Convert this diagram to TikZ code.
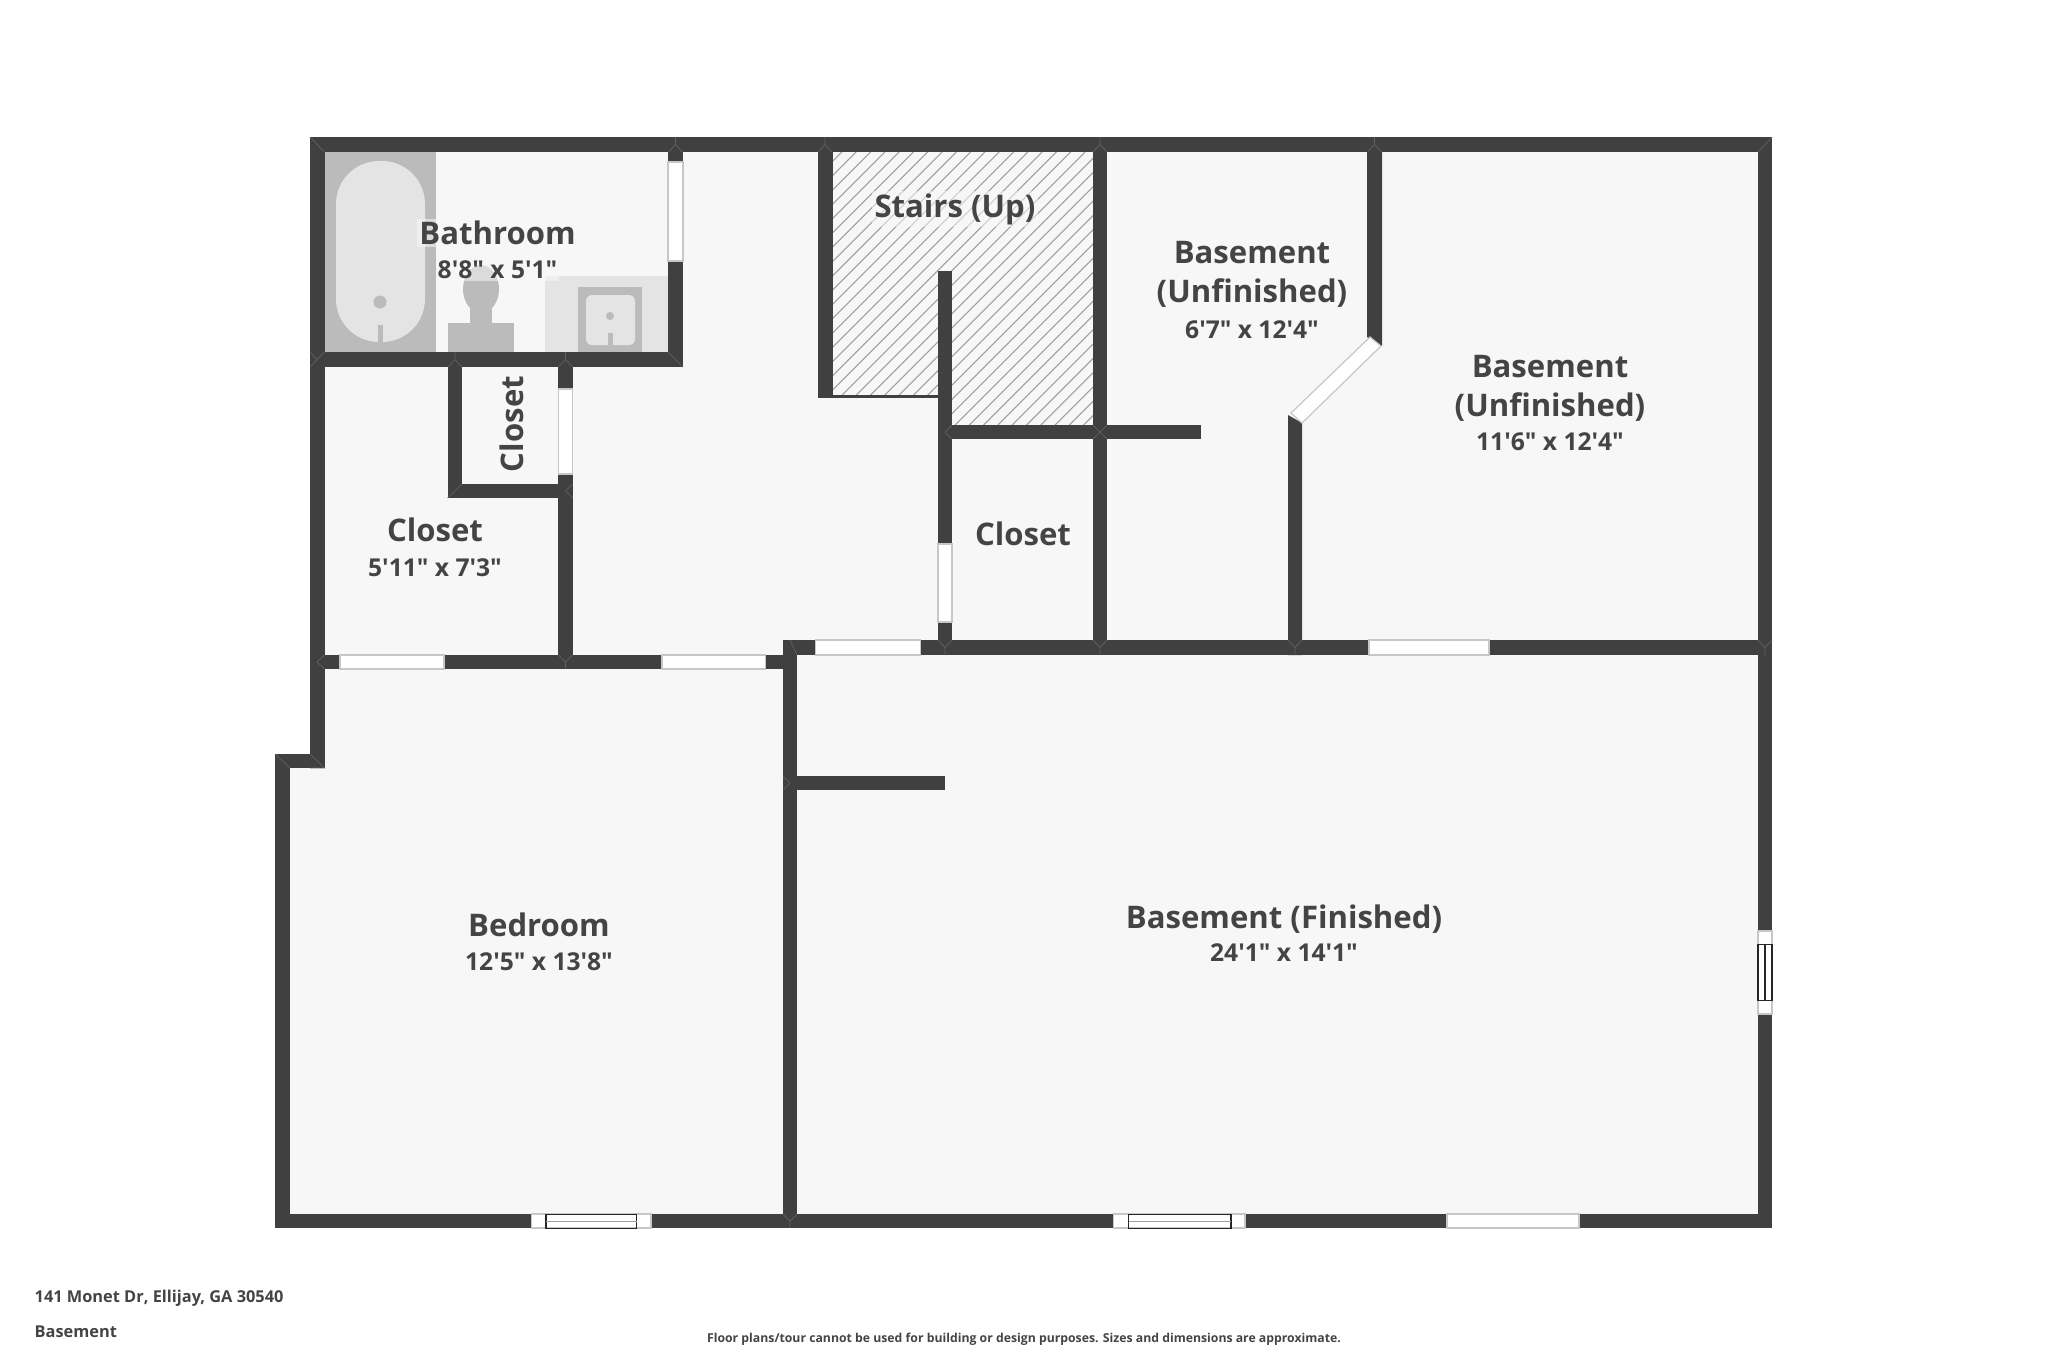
\documentclass[tikz,border=0pt]{standalone}
\usepackage{fontspec}
\setmainfont{Open Sans}[Ligatures=TeXOff]
\definecolor{wallc}{HTML}{404040}
\definecolor{floorc}{HTML}{F7F7F7}
\definecolor{fixdark}{HTML}{BBBBBB}
\definecolor{fixlight}{HTML}{E4E4E4}
\definecolor{inkc}{HTML}{444444}
\tikzset{
  wall/.style={fill=wallc},
  seam/.style={draw=black!62, line width=.2pt},
  door/.style={fill=white, draw=black!22, line width=.35pt},
  pane/.style={draw=black!85, line width=.3pt},
  hatch/.style={draw=black!38, line width=.3pt},
  room/.style={text=inkc, font=\fontsize{8.85}{10}\selectfont\bfseries, align=center, inner sep=0pt},
  dim/.style={text=inkc, font=\fontsize{7}{8}\selectfont\bfseries, inner sep=0pt},
  foot/.style={text=inkc, font=\fontsize{4.65}{5}\selectfont\bfseries, inner sep=0pt},
  halo/.style={fill=floorc, fill opacity=.55, text opacity=1, inner sep=.6pt}
}
\begin{document}
\begin{tikzpicture}[x=.01cm, y=-.01cm]
\useasboundingbox (0,0) rectangle (2048,1365);

% floor
\fill[floorc] (310,137) -- (1772,137) -- (1772,1228) -- (275,1228) -- (275,754) -- (310,754) -- cycle;

% stair hatching
\begin{scope}
\clip (832,152) -- (1093,152) -- (1093,425) -- (938,425) -- (938,395) -- (832,395) -- cycle;
\foreach \hx in {554.6,568.9,...,1100}
  \draw[hatch] (\hx,425) -- (\hx+273,152);
\end{scope}

% bathroom fittings
\fill[fixdark] (324,152) rectangle (436,352);
\fill[fixlight, rounded corners=.43cm] (336,161) rectangle (425,342);
\fill[fixdark] (380,302) circle (6.5);
\fill[fixdark] (377.5,325) rectangle (383,342);
\fill[fixdark] (448,323) rectangle (514,352);
\fill[fixdark] (470,300) rectangle (492,323);
\fill[fixdark] (481,289) ellipse (18 and 24);
\fill[fixlight] (545,276) rectangle (668,352);
\fill[fixdark] (578,287) rectangle (642,352);
\fill[fixlight, rounded corners=.06cm] (586,295) rectangle (635,345);
\fill[fixdark] (610,316) circle (4);
\fill[fixdark] (607.5,333) rectangle (612.5,345);

% outer walls
\fill[wall] (310,137) rectangle (1772,152);
\fill[wall] (1758,137) rectangle (1772,1228);
\fill[wall] (275,1214) rectangle (1772,1228);
\fill[wall] (275,754) rectangle (290,1228);
\fill[wall] (275,754) rectangle (324.5,768);
\fill[wall] (310,137) rectangle (324.5,768);

% inner walls
\fill[wall] (310,352) rectangle (683,367);
\fill[wall] (668,137) rectangle (683,367);
\fill[wall] (447.7,352) rectangle (462,498);
\fill[wall] (447.7,484) rectangle (572.7,498);
\fill[wall] (558.4,352) rectangle (572.7,669);
\fill[wall] (310,655) rectangle (797,669);
\fill[wall] (783,640) rectangle (797,1228);
\fill[wall] (783,640) rectangle (1772,655);
\fill[wall] (783,776) rectangle (945,790);
\fill[wall] (818,137) rectangle (832.5,398);
\fill[wall] (832,395) rectangle (938,398);
\fill[wall] (938,271) rectangle (952,655);
\fill[wall] (938,425) rectangle (1201,439);
\fill[wall] (1093,137) rectangle (1107,655);
\fill[wall] (1367,137) -- (1382,137) -- (1382,346) -- (1367,337) -- cycle;
\fill[wall] (1288,415) -- (1302,423) -- (1302,655) -- (1288,655) -- cycle;

% wall joints
\foreach \jx in {675.5,825,1100,1374.5}
  \draw[seam] (\jx,137) -- (\jx,144.5) (\jx-7,152) -- (\jx,144.5) -- (\jx+7,152);
\foreach \jx in {455,565.5}
  \draw[seam] (\jx,352) -- (\jx,359.5) (\jx-7,367) -- (\jx,359.5) -- (\jx+7,367);
\foreach \jx in {945,1100,1295,1765}
  \draw[seam] (\jx,655) -- (\jx,647.5) (\jx-7,640) -- (\jx,647.5) -- (\jx+7,640);
\draw[seam] (790,1228) -- (790,1221) (783,1214) -- (790,1221) -- (797,1214);
\draw[seam] (565.5,669) -- (565.5,662) (558.5,655) -- (565.5,662) -- (572.5,655);
\draw[seam] (310,137) -- (324.5,152) (1772,137) -- (1758,152) (683,367) -- (668,352);
\draw[seam] (310,352) -- (317,359.5) -- (324.5,352) (317,359.5) -- (310,367);
\draw[seam] (310,768) -- (324.5,768) -- (310,754) (275,754) -- (290,768);
\draw[seam] (324.5,655) -- (317,662) -- (324.5,669);
\draw[seam] (790,640) -- (797,655) (783,790) -- (790,783) -- (783,776);
\draw[seam] (1093,425) -- (1107,439) (1107,425) -- (1093,439) (952,425) -- (945,432) -- (952,439);
\draw[seam] (447.7,498) -- (462,484) (572.7,484) -- (565.5,491) -- (572.7,498);

% doors
\draw[door] (668,162) rectangle (683,261);
\draw[door] (558.4,389) rectangle (572.7,474);
\draw[door] (340,655) rectangle (444,669);
\draw[door] (662,655) rectangle (765.5,669);
\draw[door] (938,544) rectangle (952,622);
\draw[door] (815.5,640) rectangle (920.4,655);
\draw[door] (1369,640) rectangle (1489,655);
\draw[door] (1447,1214) rectangle (1579,1228);
\draw[door] (1370,337) -- (1381,346) -- (1302,423) -- (1291,413) -- cycle;

% windows
\draw[door] (531.6,1214) rectangle (651,1228);
\draw[pane] (546,1214) rectangle (636.7,1228);
\draw[hatch] (546,1221) -- (636.7,1221);
\draw[door] (1113.8,1214) rectangle (1245,1228);
\draw[pane] (1128.6,1214) rectangle (1231,1228);
\draw[hatch] (1128.6,1221) -- (1231,1221);
\draw[door] (1758,931) rectangle (1772,1014);
\draw[pane] (1758,944) rectangle (1772,1000);
\draw[pane] (1765,944) -- (1765,1000);

% labels
\node[room, halo] (bath) at (497.5,233) {Bathroom};
\node[dim, halo] (bathdim) at (497.5,270) {8'8" x 5'1"};
\node[room, halo] (stairs) at (955,209) {Stairs (Up)};
\node[room] (baseleft) at (1252,274) {Basement\\[1.1pt](Unfinished)};
\node[dim] (baseleftdim) at (1252,330) {6'7" x 12'4"};
\node[room] (baseright) at (1550,388) {Basement\\[1.1pt](Unfinished)};
\node[dim] (baserightdim) at (1550,442) {11'6" x 12'4"};
\node[room, rotate=90] (closetnook) at (512,424) {Closet};
\node[room] (closetleft) at (435,530) {Closet};
\node[dim] (closetleftdim) at (435,568) {5'11" x 7'3"};
\node[room] (closetmid) at (1023,534) {Closet};
\node[room] (bedroom) at (539,925) {Bedroom};
\node[dim] (bedroomdim) at (539,962) {12'5" x 13'8"};
\node[room] (finished) at (1284,919) {Basement (Finished)};
\node[dim] (finisheddim) at (1284,953) {24'1" x 14'1"};

% footer
\node[foot, anchor=west] (address) at (34,1298) {141 Monet Dr, Ellijay, GA 30540};
\node[foot, anchor=west] (floorname) at (34,1332) {Basement};
\node[text=inkc, font=\fontsize{3.485}{4}\selectfont\bfseries, inner sep=0pt] (disclaimer) at (1024,1339) {Floor plans/tour cannot be used for building or design purposes. Sizes and dimensions are approximate.};
\end{tikzpicture}
\end{document}
